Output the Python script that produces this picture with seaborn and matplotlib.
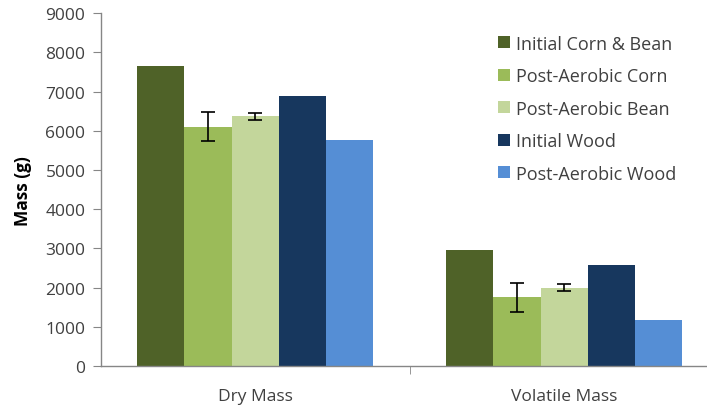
import pandas as pd
import numpy as np
import matplotlib.pyplot as plt
import seaborn as sns

# ---------------- data ----------------
categories = ["Dry Mass", "Volatile Mass"]
series = ["Initial Corn & Bean", "Post-Aerobic Corn", "Post-Aerobic Bean",
          "Initial Wood", "Post-Aerobic Wood"]
dry_mass = [7650, 6100, 6370, 6900, 5770]
volatile_mass = [2960, 1760, 2000, 2570, 1170]
dry_err = [0, 370, 90, 0, 0]
volatile_err = [0, 370, 90, 0, 0]
colors = ["#4F6228", "#9BBB59", "#C3D69B", "#17375E", "#558ED5"]

rows = []
for s, d, v, de, ve in zip(series, dry_mass, volatile_mass, dry_err, volatile_err):
    rows.append({"category": categories[0], "series": s, "mass": d, "err": de})
    rows.append({"category": categories[1], "series": s, "mass": v, "err": ve})
df = pd.DataFrame(rows)

sns.set_style("white")
plt.rcParams["font.family"] = ["Open Sans", "DejaVu Sans"]

fig = plt.figure(figsize=(7.07, 4.06), dpi=100)
# axis runs past the right edge of the picture, as in the original
ax = fig.add_axes([0.1425, 0.096, 0.874, 0.869])

sns.barplot(data=df, x="category", y="mass", hue="series", order=categories,
            hue_order=series, palette=colors, errorbar=None, width=0.765,
            saturation=1, linewidth=0, ax=ax)

# error bars on the bar centres
for i, s in enumerate(series):
    cont = ax.containers[i]
    for j, bar in enumerate(cont):
        e = df[(df["series"] == s) & (df["category"] == categories[j])]["err"].iloc[0]
        if e > 0:
            xc = bar.get_x() + bar.get_width() / 2
            ax.errorbar(xc, bar.get_height(), yerr=e, fmt="none", ecolor="black",
                        elinewidth=1.2, capsize=5, capthick=1.2)

ax.set_xlim(-0.5, 1.5)
ax.set_ylim(0, 9000)
ax.set_yticks(np.arange(0, 9001, 1000))
ax.set_xlabel("")
ax.set_ylabel("Mass (g)", fontsize=12.5, fontweight="bold", color="black", labelpad=10)
ax.tick_params(axis="y", labelsize=12.5, colors="#404040", length=6, direction="out",
               left=True, color="#868686", pad=5)
ax.tick_params(axis="x", labelsize=12.5, colors="#404040", length=0, pad=16)
ax.set_xticks([0.5], minor=True)
ax.tick_params(axis="x", which="minor", length=6, bottom=True, color="#868686")

for side in ["top", "right"]:
    ax.spines[side].set_visible(False)
for side in ["left", "bottom"]:
    ax.spines[side].set_color("#868686")
    ax.spines[side].set_linewidth(1)

leg = ax.legend(loc="upper left", bbox_to_anchor=(0.617, 0.985), frameon=False,
                fontsize=13, handlelength=0.65, handleheight=0.65,
                labelspacing=0.8, handletextpad=0.35)
for t in leg.get_texts():
    t.set_color("#404040")

fig.savefig("out.png", dpi=100)
